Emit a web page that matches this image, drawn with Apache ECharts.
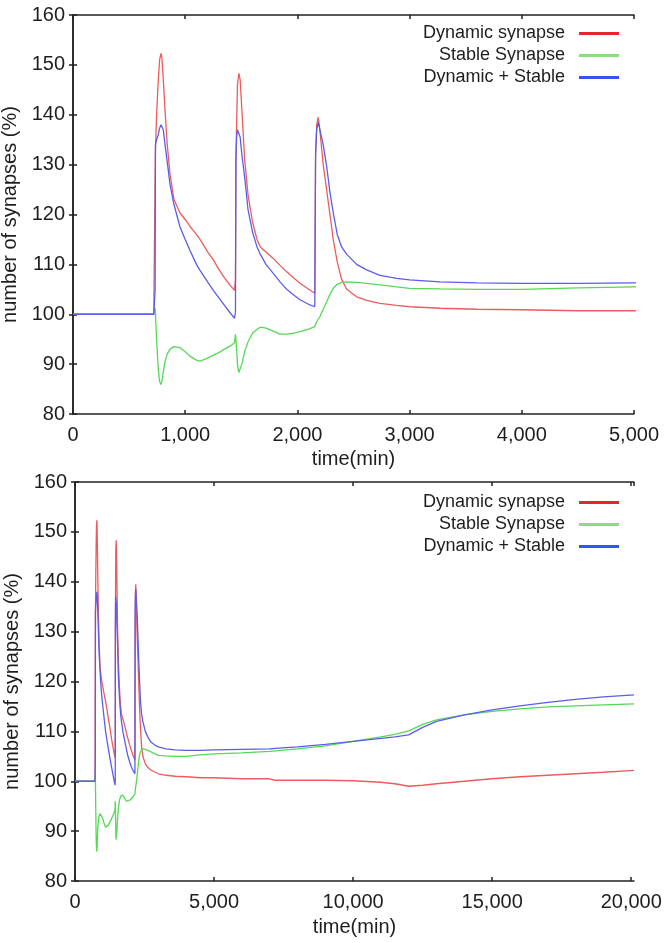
<!DOCTYPE html>
<html><head><meta charset="utf-8">
<script src="https://cdn.jsdelivr.net/npm/echarts@6/dist/echarts.min.js"></script>
<style>html,body{margin:0;padding:0;background:#fff}#c{width:664px;height:943px}</style>
</head><body><div id="c"></div>
<script>
// time (min)
const timeMin = [0,720,731,732,735,745,760,772,784,792,805,820,840,865,900,954,1000,1043,1100,1132,1200,1251,1300,1350,1400,1440,
  1448,1452,1458,1466,1478,1490,1505,1530,1560,1600,1640,1670,1720,1785,1845,1905,1970,2023,2100,2155,
  2162,2172,2186,2200,2230,2261,2290,2320,2355,2394,2440,2528,2617,2736,2885,3000,3271,3600,4000,4500,5000,
  6000,7000,7200,8000,9000,10000,11000,11500,12000,12500,13000,14000,15000,16000,17000,18000,19000,20100];
const dynamicSynapse = [100,100,100,128,133,140,147,151,152.3,151.5,147,141,134,128,123,120.3,119,117.6,116,115,112.5,110.9,109,107.3,105.8,104.8,
  107,130,138,146,148.3,147,141,131,124,118.5,115,113.5,112.5,111.2,109.8,108.5,107.2,106.2,105,104.2,
  132,138,139.5,137,130,124.9,120,114.9,110.5,107,105,103.5,102.8,102.2,101.8,101.5,101.2,101.0,100.9,100.7,100.7,
  100.5,100.5,100.2,100.2,100.2,100.1,99.8,99.5,99.0,99.2,99.5,100.0,100.5,100.9,101.2,101.5,101.8,102.2];
const stableSynapse = [100,100,100,101.3,100,95,89,86.5,85.9,86.5,88.5,90.5,92,93,93.5,93.3,92.5,91.6,90.8,90.6,91.2,91.8,92.3,93,93.6,94.3,
  96,95,93,90,88.3,88.2,90,92.5,94.5,96.2,97,97.4,97.2,96.6,96,96,96.2,96.5,97,97.5,
  98,98.5,99,99.5,101,102.5,104,105.2,106,106.4,106.5,106.4,106.2,105.9,105.5,105.2,105.1,105.0,105.0,105.3,105.5,
  105.7,106.0,106.1,106.5,107.1,108.0,108.9,109.4,110.1,111.4,112.3,113.3,114.0,114.5,114.9,115.1,115.3,115.5];
const dynamicPlusStable = [100,100,100,105,134,135,136,137.3,138,138.3,137,134,130.5,126,122,117.5,115,112.8,110,108.8,106.5,104.8,103.3,101.8,100.3,99.2,
  100.5,131,135.5,137,137,135.5,132,127.5,121,116.5,113.5,112,110,108.2,106.5,105,103.8,102.9,102,101.5,
  132,137,138.5,137,134,129.6,124.5,120.3,116,113.5,112,110,108.9,107.8,107.2,106.9,106.5,106.3,106.2,106.2,106.3,
  106.4,106.5,106.6,106.9,107.4,108.0,108.6,108.9,109.3,110.8,112.0,113.3,114.3,115.1,115.8,116.4,116.9,117.3];
const yTicks = [80,90,100,110,120,130,140,150,160];
const topXTicks = [0,1000,2000,3000,4000,5000];
const bottomXTicks = [0,5000,10000,15000,20000];
const bottomXMax = 20100;
const seriesNames = ['Dynamic synapse','Stable Synapse','Dynamic + Stable'];
const lineColors = ['#ee5b5b','#55d855','#5c5ced'];
const legendColors = ['#e3262a','#86e078','#3355ee'];

const FONT = 'Liberation Sans, Arial, Helvetica, sans-serif';
const TXT = '#1e1e1e';
const pair = (arr) => timeMin.map((t,i)=>[t,arr[i]]);
const seriesData = [dynamicSynapse, stableSynapse, dynamicPlusStable];
const fmt = v => { if (v===0) return '0'; return String(v).replace(/\B(?=(\d{3})+(?!\d))/g, ','); };

const axisLineStyle = {show:true, lineStyle:{color:'#222', width:1.5}};
const tickStyle = {show:true, inside:true, length:4, lineStyle:{color:'#222', width:1.5}};

function xAxes(gi, ticks, max, gapLabel, gapName){
  const min = ticks[0], interval = ticks[1]-ticks[0];
  return [
    {type:'value', gridIndex:gi, min, max, interval, position:'bottom',
     axisLine:axisLineStyle, axisTick:tickStyle, splitLine:{show:false},
     axisLabel:{fontFamily:FONT, fontSize:20, color:TXT, margin:gapLabel, showMaxLabel: max===ticks[ticks.length-1],
       formatter: v => ticks.includes(v) ? fmt(v) : ''},
     name:'time(min)', nameLocation:'middle', nameGap:gapName,
     nameTextStyle:{fontFamily:FONT, fontSize:20, color:TXT}},
    {type:'value', gridIndex:gi, min, max, interval, position:'top',
     axisLine:axisLineStyle, axisTick:tickStyle, splitLine:{show:false}, axisLabel:{show:false}}
  ];
}
function yAxes(gi, nameGap){
  const min = yTicks[0], max = yTicks[yTicks.length-1], interval = yTicks[1]-yTicks[0];
  return [
    {type:'value', gridIndex:gi, min, max, interval, position:'left',
     axisLine:axisLineStyle, axisTick:tickStyle, splitLine:{show:false},
     axisLabel:{fontFamily:FONT, fontSize:20, color:TXT, margin:8},
     name:'number of synapses (%)', nameLocation:'middle', nameGap, nameRotate:90,
     nameTextStyle:{fontFamily:FONT, fontSize:20, color:TXT}},
    {type:'value', gridIndex:gi, min, max, interval, position:'right',
     axisLine:axisLineStyle, axisTick:tickStyle, splitLine:{show:false}, axisLabel:{show:false}}
  ];
}
function legend(top){
  return {top, right:40, orient:'vertical', align:'right', itemWidth:40, itemHeight:3, itemGap:1,
    icon:'rect', selectedMode:false,
    textStyle:{fontFamily:FONT, fontSize:18, color:TXT, lineHeight:21, padding:[0,9,0,0]},
    data: seriesNames.map((n,i)=>({name:n, icon:'rect', itemStyle:{color:legendColors[i]}}))};
}
const series = [];
[0,1].forEach(gi=>{
  seriesData.forEach((arr,i)=>{
    series.push({type:'line', name:seriesNames[i], xAxisIndex:gi*2, yAxisIndex:gi*2,
      data:pair(arr), showSymbol:false, symbol:'none', clip:true,
      lineStyle:{color:lineColors[i], width:1.3}, itemStyle:{color:lineColors[i]}, z:2+i});
  });
});
const chart = echarts.init(document.getElementById('c'), null, {renderer:'canvas'});
chart.setOption({
  animation:false,
  backgroundColor:'#fff',
  grid:[{left:73, top:15, width:561, height:399, containLabel:false, outerBoundsMode:'none'},
        {left:75, top:482, width:559, height:399, containLabel:false, outerBoundsMode:'none'}],
  xAxis:[...xAxes(0, topXTicks, topXTicks[topXTicks.length-1], 11, 35), ...xAxes(1, bottomXTicks, bottomXMax, 11, 36)],
  yAxis:[...yAxes(0, 47), ...yAxes(1, 48)],
  legend:[legend(18), legend(487)],
  series
});
</script></body></html>
